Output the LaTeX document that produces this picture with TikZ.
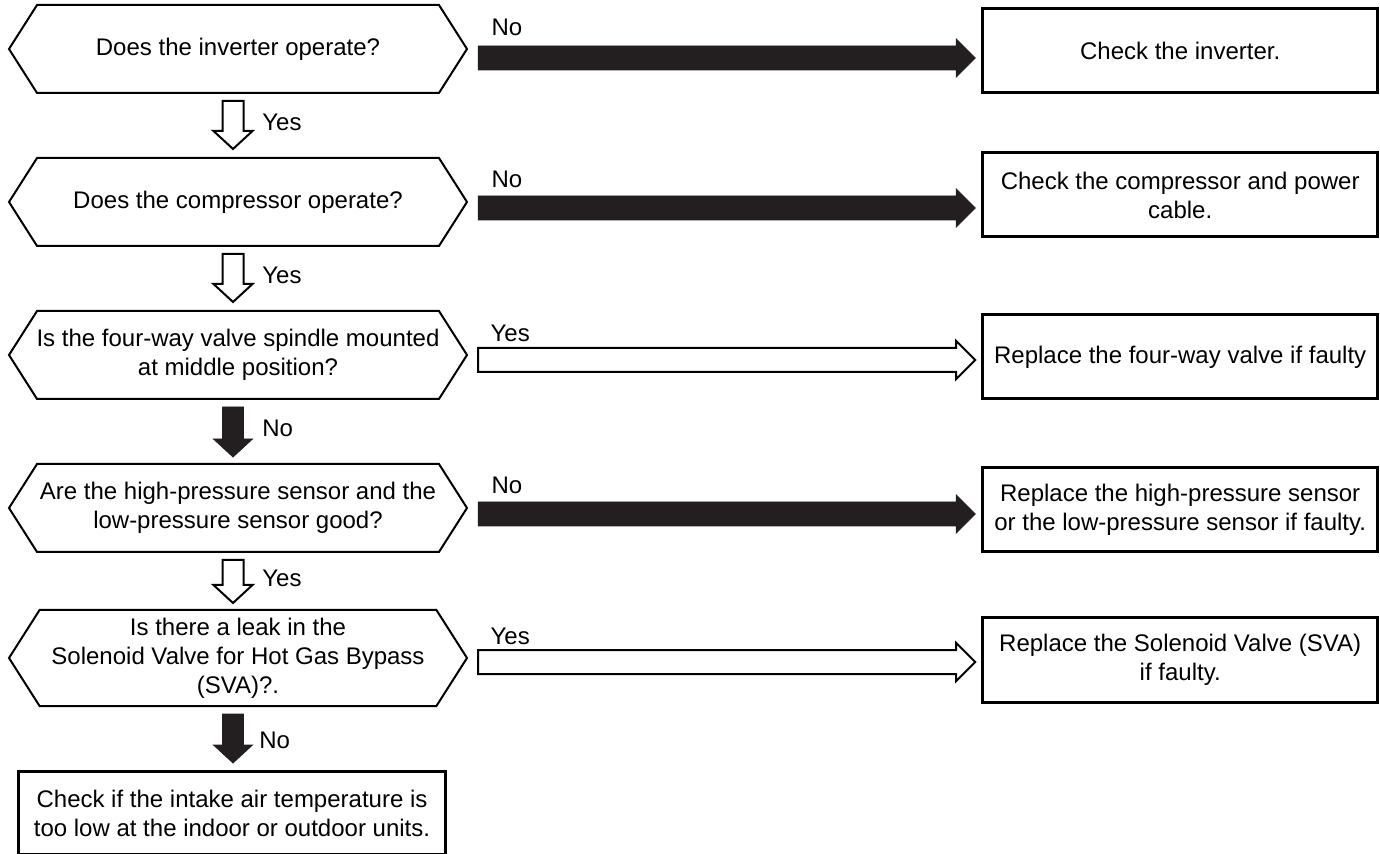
\documentclass[tikz,border=0pt]{standalone}
\usepackage{fontspec}
\setmainfont{Liberation Sans}
\usetikzlibrary{positioning, calc, shapes.symbols}
\definecolor{arrowblack}{HTML}{231F20}
\tikzset{
    flowchart/.style={x=0.5pt, y=-0.5pt, font=\fontsize{12}{14.5}\selectfont, node distance=31.5pt and 256.5pt},
    decision/.style={draw, line width=1pt, signal, signal to=west and east, signal pointer angle=115, minimum width=229pt, minimum height=44pt, inner xsep=-6pt, inner ysep=2pt, align=center},
    action/.style={draw, line width=1.5pt, minimum width=197.5pt, minimum height=42pt, inner sep=2pt, align=center},
    lab/.style={inner sep=0pt, anchor=west},
    % block arrows: hflow runs right at the height of its start, vflow runs down
    hflow/.style={to path={let \p1=(\tikztostart), \p2=(\tikztotarget) in
        (\x1,\y1+6pt) -- (\x2-9.5pt,\y1+6pt) -- (\x2-9.5pt,\y1+9.5pt) -- (\x2,\y1)
        -- (\x2-9.5pt,\y1-9.5pt) -- (\x2-9.5pt,\y1-6pt) -- (\x1,\y1-6pt) -- cycle}},
    vflow/.style={to path={let \p1=(\tikztostart), \p2=(\tikztotarget) in
        (\x1-5.25pt,\y1) -- (\x1-5.25pt,\y2+9pt) -- (\x1-9.75pt,\y2+9pt) -- (\x1,\y2)
        -- (\x1+9.75pt,\y2+9pt) -- (\x1+5.25pt,\y2+9pt) -- (\x1+5.25pt,\y1) -- cycle}},
    filledarrow/.style={fill=arrowblack, draw=arrowblack, line width=0.4pt},
    hollowarrow/.style={fill=white, draw=black, line width=1pt},
}
\begin{document}
\begin{tikzpicture}[flowchart]
    \useasboundingbox (0,0) rectangle (1380,854);

    % questions
    \node[decision]                               (q1) at (238,49) {Does the inverter operate?};
    \node[decision, below=of q1]                  (q2) {Does the compressor operate?};
    \node[decision, below=of q2]                  (q3) {Is the four-way valve spindle mounted\\at middle position?};
    \node[decision, below=of q3]                  (q4) {Are the high-pressure sensor and the\\low-pressure sensor good?};
    \node[decision, below=28pt of q4, minimum height=48pt] (q5) {Is there a leak in the\\Solenoid Valve for Hot Gas Bypass\\(SVA)?.};

    % actions
    \node[action, right=of q1, yshift=-1pt]       (r1) {Check the inverter.};
    \node[action, right=of q2, yshift=3.5pt]      (r2) {Check the compressor and power\\cable.};
    \node[action, right=of q3, yshift=-1pt]       (r3) {Replace the four-way valve if faulty};
    \node[action, right=of q4, yshift=-1pt]       (r4) {Replace the high-pressure sensor\\or the low-pressure sensor if faulty.};
    \node[action, right=of q5, yshift=-1pt]       (r5) {Replace the Solenoid Valve (SVA)\\if faulty.};
    \node[action, below=of q5, xshift=-3pt, minimum width=213.5pt, minimum height=41.5pt] (r6) {Check if the intake air temperature is\\too low at the indoor or outdoor units.};

    % horizontal branches
    \draw[hflow, filledarrow] ([xshift=5pt,yshift=-4.5pt]q1.east) to ([xshift=-3pt]r1.west);
    \draw[hflow, filledarrow] ([xshift=5pt,yshift=-3pt]q2.east)   to ([xshift=-3pt]r2.west);
    \draw[hflow, hollowarrow] ([xshift=5pt,yshift=-2.5pt]q3.east) to ([xshift=-3pt]r3.west);
    \draw[hflow, filledarrow] ([xshift=5pt,yshift=-3pt]q4.east)   to ([xshift=-3pt]r4.west);
    \draw[hflow, hollowarrow] ([xshift=5pt,yshift=-2pt]q5.east)   to ([xshift=-3pt]r5.west);

    \node[lab] (n1) at ([xshift=11.5pt,yshift=11pt]q1.east) {No};
    \node[lab] (n2) at ([xshift=11.5pt,yshift=11.5pt]q2.east) {No};
    \node[lab] (n3) at ([xshift=11pt,yshift=11pt]q3.east) {Yes};
    \node[lab] (n4) at ([xshift=11.5pt,yshift=11.5pt]q4.east) {No};
    \node[lab] (n5) at ([xshift=11pt,yshift=11pt]q5.east) {Yes};

    % main line
    \draw[vflow, hollowarrow] ([xshift=-2.5pt,yshift=-3.5pt]q1.south) to ([yshift=4pt]q2.north);
    \draw[vflow, hollowarrow] ([xshift=-2.5pt,yshift=-3.5pt]q2.south) to ([yshift=4pt]q3.north);
    \draw[vflow, filledarrow] ([xshift=-2.5pt,yshift=-3.5pt]q3.south) to ([yshift=3pt]q4.north);
    \draw[vflow, hollowarrow] ([xshift=-2.5pt,yshift=-3.5pt]q4.south) to ([yshift=3pt]q5.north);
    \draw[vflow, filledarrow] ([xshift=-2.5pt,yshift=-3.5pt]q5.south) to ([yshift=3.5pt]r6.north);

    \node[lab] (v1) at ($(q1.south)!0.5!(q2.north)+(12pt,1.5pt)$) {Yes};
    \node[lab] (v2) at ($(q2.south)!0.5!(q3.north)+(12pt,1.5pt)$) {Yes};
    \node[lab] (v3) at ($(q3.south)!0.5!(q4.north)+(12pt,1.5pt)$) {No};
    \node[lab] (v4) at ($(q4.south)!0.5!(q5.north)+(12pt,1.5pt)$) {Yes};
    \node[lab] (v5) at ($(q5.south)!0.5!(r6.north)+(12pt,-1pt)$) {No};
\end{tikzpicture}
\end{document}
